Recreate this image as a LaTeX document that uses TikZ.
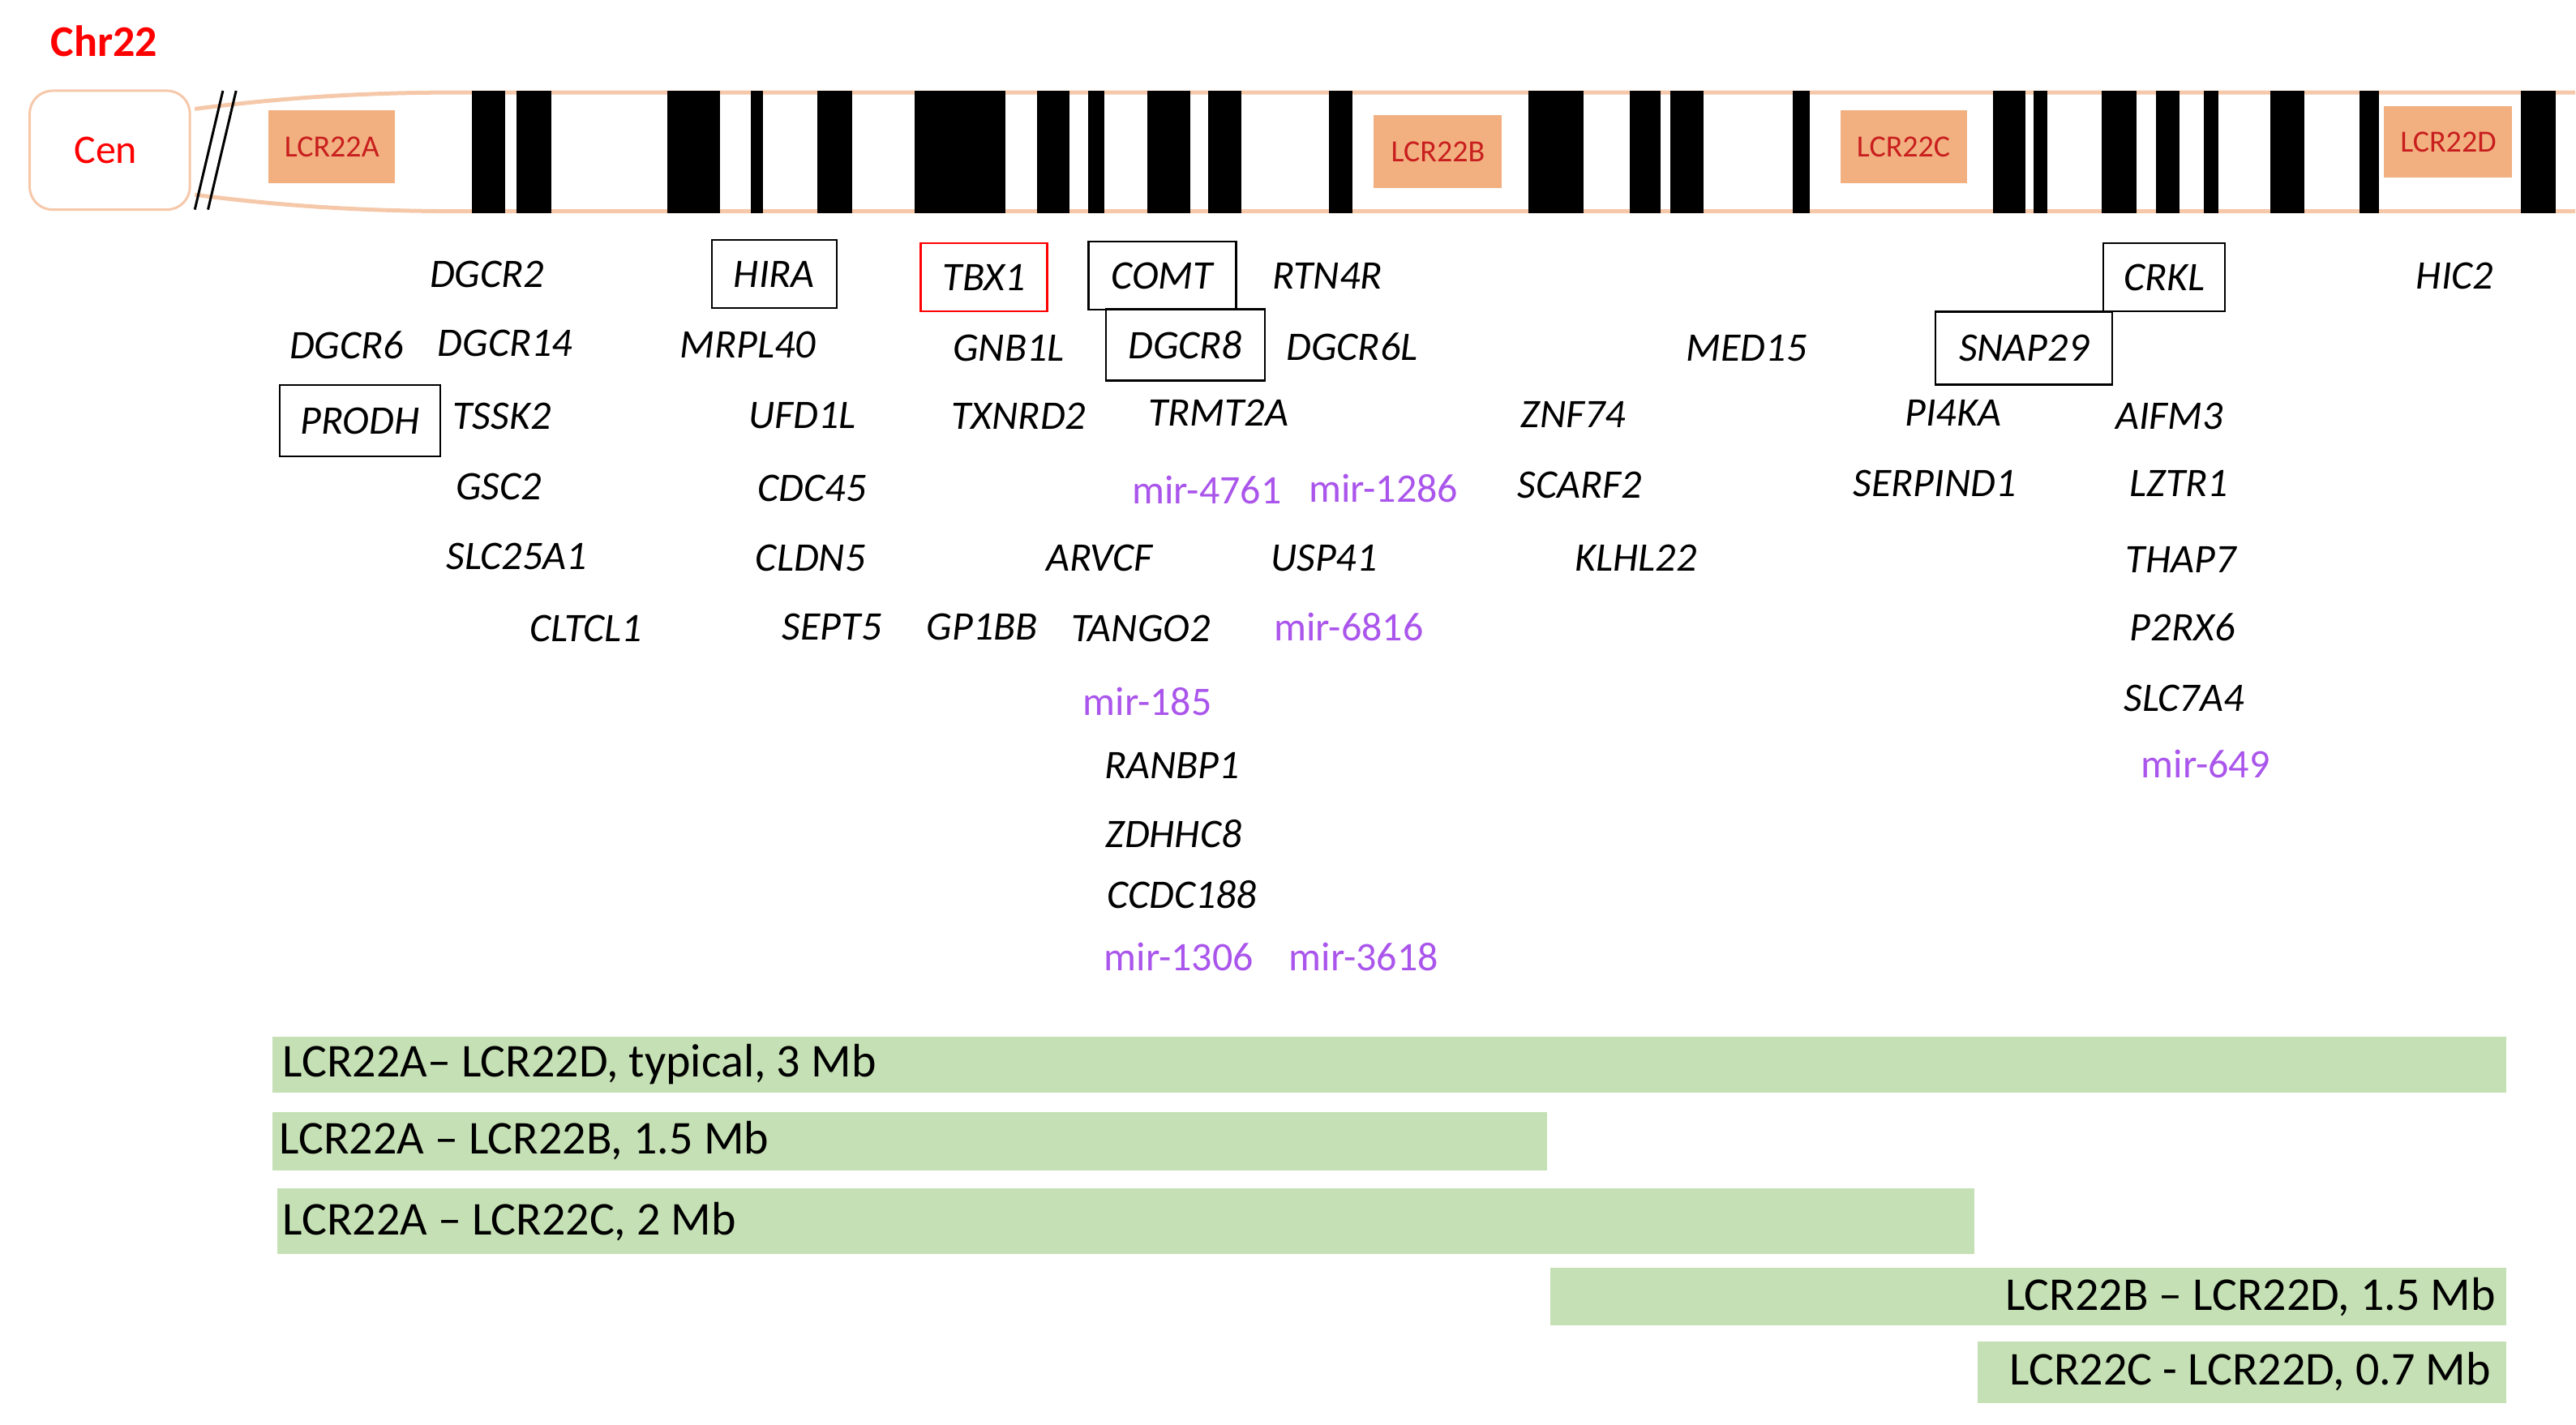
\documentclass[tikz,border=0pt]{standalone}
\usepackage{fontspec}
\setmainfont{Carlito}
\begin{document}
\begin{tikzpicture}[x=1.018pt,y=-1.018pt,
  gene/.style={font=\fontsize{25}{27}\selectfont\itshape,inner sep=6pt},
  gbox/.style={gene,draw=black,line width=1.2pt,minimum height=42},
  mir/.style={font=\fontsize{25}{27}\selectfont,text=mirc,inner sep=2pt},
  lcr/.style={fill=lcrf,text=lcrt,font=\fontsize{19}{20}\selectfont,inner sep=0pt},
  gbar/.style={fill=barg,draw=none},
  btxt/.style={font=\fontsize{29}{31}\selectfont,inner sep=0pt}]
\definecolor{mirc}{RGB}{170,85,235}
\definecolor{lcrf}{RGB}{242,176,128}
\definecolor{lcrt}{RGB}{200,30,30}
\definecolor{outl}{RGB}{246,200,170}
\definecolor{barg}{RGB}{197,224,180}
\useasboundingbox (0,0) rectangle (1560.4,863);
\node[text=red,font=\fontsize{27}{29}\selectfont\bfseries] (chr) at (63,25) {Chr22};
% chromosome outline
\draw[outl,line width=2.5pt] (118,66) .. controls (180,58) and (230,56) .. (280,56) -- (1560,56);
\draw[outl,line width=2.5pt] (118,118) .. controls (180,126) and (230,128) .. (280,128) -- (1560,128);
\draw[outl,line width=1.5pt,fill=white,rounded corners=14pt] (18,55) rectangle (115,127);
\node[text=red,font=\fontsize{25}{27}\selectfont] (cen) at (64,91) {Cen};
\draw[line width=1.5pt] (118,127) -- (135,55);
\draw[line width=1.5pt] (126,127) -- (143,55);
\foreach \a/\b in {286/306,313/334,404/436,455/462,495/516,554/609,628/648,659/669,695/721,732/752,805/819,926/959,987/1006,1012/1032,1086/1096,1207/1227,1232/1240,1273/1294,1306/1320,1335/1344,1375/1396,1429/1441,1527/1548}
  \fill[black] (\a,55) rectangle (\b,129);
\node[lcr,minimum width=78,minimum height=45] (la) at (201,89) {LCR22A};
\node[lcr,minimum width=79,minimum height=45] (lb) at (871,92) {LCR22B};
\node[lcr,minimum width=78,minimum height=45] (lc) at (1153,89) {LCR22C};
\node[lcr,minimum width=79,minimum height=44] (ld) at (1483,86) {LCR22D};
% genes
\node[gene] (g1) at (295,166) {DGCR2};
\node[gbox,minimum width=77] (g2) at (469,166) {HIRA};
\node[gbox,draw=red,minimum width=78] (g3) at (596,168) {TBX1};
\node[gbox,minimum width=91] (g4) at (704,167) {COMT};
\node[gene] (g5) at (804,167) {RTN4R};
\node[gbox,minimum width=75] (g6) at (1311,168) {CRKL};
\node[gene] (g7) at (1487,167) {HIC2};
\node[gene] (g8) at (210,209) {DGCR6};
\node[gene] (g9) at (306,208) {DGCR14};
\node[gene] (g10) at (453,209) {MRPL40};
\node[gene] (g11) at (611,211) {GNB1L};
\node[gbox,minimum width=98,minimum height=44] (g12) at (718,209) {DGCR8};
\node[gene] (g13) at (819,210) {DGCR6L};
\node[gene] (g14) at (1058,211) {MED15};
\node[gbox,minimum width=109,minimum height=45] (g15) at (1226,211) {SNAP29};
\node[gbox,minimum width=99,minimum height=44] (g16) at (218,255) {PRODH};
\node[gene] (g17) at (304,252) {TSSK2};
\node[gene] (g18) at (486,252) {UFD1L};
\node[gene] (g19) at (617,252) {TXNRD2};
\node[gene] (g20) at (738,250) {TRMT2A};
\node[gene] (g21) at (953,251) {ZNF74};
\node[gene] (g22) at (1183,250) {PI4KA};
\node[gene] (g23) at (1314,252) {AIFM3};
\node[gene] (g24) at (302,295) {GSC2};
\node[gene] (g25) at (492,296) {CDC45};
\node[mir] (g26) at (731,297) {mir-4761};
\node[mir] (g27) at (838,296) {mir-1286};
\node[gene] (g28) at (957,294) {SCARF2};
\node[gene] (g29) at (1172,293) {SERPIND1};
\node[gene] (g30) at (1320,293) {LZTR1};
\node[gene] (g31) at (313,337) {SLC25A1};
\node[gene] (g32) at (491,338) {CLDN5};
\node[gene] (g33) at (666,338) {ARVCF};
\node[gene] (g34) at (802,338) {USP41};
\node[gene] (g35) at (991,338) {KLHL22};
\node[gene] (g36) at (1321,339) {THAP7};
\node[gene] (g37) at (355,381) {CLTCL1};
\node[gene] (g38) at (504,380) {SEPT5};
\node[gene] (g39) at (595,380) {GP1BB};
\node[gene] (g40) at (691,381) {TANGO2};
\node[mir] (g41) at (817,380) {mir-6816};
\node[gene] (g42) at (1322,380) {P2RX6};
\node[mir] (g43) at (695,425) {mir-185};
\node[gene] (g44) at (1323,423) {SLC7A4};
\node[gene] (g45) at (710,464) {RANBP1};
\node[mir] (g46) at (1336,463) {mir-649};
\node[gene] (g47) at (711,505) {ZDHHC8};
\node[gene] (g48) at (716,542) {CCDC188};
\node[mir] (g49) at (714,580) {mir-1306};
\node[mir] (g50) at (826,580) {mir-3618};
% deletion bars
\fill[gbar] (165,628) rectangle (1518,662);
\node[btxt,anchor=west] (b1) at (171,645) {LCR22A– LCR22D, typical, 3 Mb};
\fill[gbar] (165,674) rectangle (937,709);
\node[btxt,anchor=west] (b2) at (169,691) {LCR22A – LCR22B, 1.5 Mb};
\fill[gbar] (168,720) rectangle (1196,760);
\node[btxt,anchor=west] (b3) at (171,740) {LCR22A – LCR22C, 2 Mb};
\fill[gbar] (939,768) rectangle (1518,803);
\node[btxt,anchor=east] (b4) at (1512,786) {LCR22B – LCR22D, 1.5 Mb};
\fill[gbar] (1198,813) rectangle (1518,850);
\node[btxt,anchor=east] (b5) at (1509,831) {LCR22C - LCR22D, 0.7 Mb};
\end{tikzpicture}
\end{document}
